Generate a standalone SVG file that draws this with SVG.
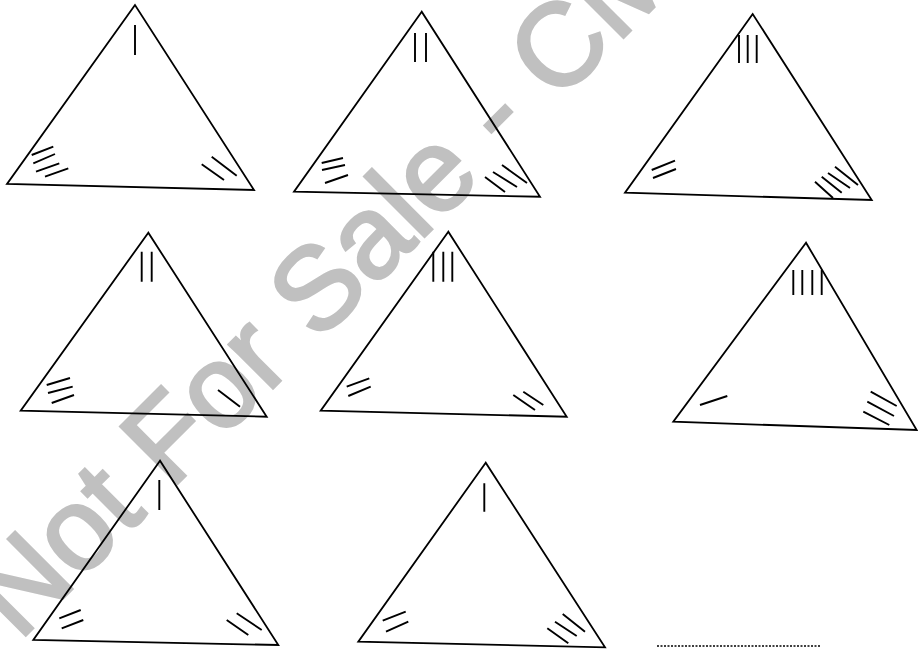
<svg xmlns="http://www.w3.org/2000/svg" width="918" height="649" viewBox="0 0 918 649">
<style>
.edge{fill:none;stroke:#000;stroke-width:1.8;stroke-linejoin:miter}
.tick{stroke:#000;stroke-width:1.9;stroke-linecap:butt;fill:none}
.wm{font-family:"Liberation Sans",Arial,sans-serif;font-size:117px;fill:#c0c0c0;stroke:#c0c0c0;stroke-width:3}
</style>
<rect width="918" height="649" fill="#fff"/>
<text class="wm" transform="translate(19,642) rotate(-45)">Not For Sale - CM</text>
<g id="tri1">
<polygon class="edge" points="135,5 7,184 254,190"/>
<path class="tick" d="M135,25V55 M31.7,155L53.3,146.7 M33.3,163.3L55,154 M36,171.7L59.3,163.3 M45,176.7L68.3,168.3 M211.7,156.7L236.7,175.7 M201.7,164.3L224,180"/>
</g>
<g id="tri2">
<polygon class="edge" points="421.7,11.7 294,191.7 540,196.7"/>
<path class="tick" d="M415,33V62 M426,33V62 M321.7,163L343,158 M322,170L345,165 M325,183L348,175 M502,165L527,183 M493,172L517,187 M485,177L505,192"/>
</g>
<g id="tri3">
<polygon class="edge" points="752.7,14 625,192.7 871.7,200"/>
<path class="tick" d="M739,35V63 M747.7,35V63 M756.7,35V63 M651.7,170L675,160.7 M653,178L676,169 M835,166.7L858,185 M828,173L850,188 M821.7,176.7L841.7,192.7 M815,181.7L833,198"/>
</g>
<g id="tri4">
<polygon class="edge" points="148.3,232.7 20.7,410.7 266.7,416.7"/>
<path class="tick" d="M141.7,251.7V281.7 M151.7,251.7V281.7 M46.7,385L70,378 M48,393L72.7,386.7 M51.7,403L74,395 M218,390L240,406.7"/>
</g>
<g id="tri5">
<polygon class="edge" points="448.3,231.7 320.7,410.7 566.7,416.7"/>
<path class="tick" d="M433.3,251.7V281.7 M443.3,251.7V281.7 M452.3,251.7V281.7 M346.7,386.7L369.3,378.3 M348.3,396L370.7,386.7 M523.3,391.7L543.3,405 M513.3,395L535,410"/>
</g>
<g id="tri6">
<polygon class="edge" points="806,242.7 673.3,421.7 916.7,430"/>
<path class="tick" d="M793.3,270V295 M802.3,270V295 M812.3,270V295 M821.7,270V295 M700,405L727.3,396 M870.7,391.7L896.7,406 M867.3,401.7L894,416 M863.3,411.7L889.3,425"/>
</g>
<g id="tri7">
<polygon class="edge" points="160,460.7 33.3,640 278.3,645"/>
<path class="tick" d="M159.3,480V510 M59.3,618.3L80.7,610 M61.7,628.3L83.3,620 M236.7,613.3L261.7,630 M226.7,620L248.3,635"/>
</g>
<g id="tri8">
<polygon class="edge" points="485.7,462.7 358.3,641.7 605,647.3"/>
<path class="tick" d="M484.3,483.3V511.7 M382.7,620.7L405.7,611.7 M386,631.7L408.3,621.7 M562.7,614L585,631.7 M555,621.7L576.7,636 M547.3,628.3L568.3,643.3"/>
</g>
<g id="blank">
<line x1="657" y1="646" x2="820" y2="646" stroke="#000" stroke-width="1.5" stroke-dasharray="2 1.5"/>
</g>
</svg>
